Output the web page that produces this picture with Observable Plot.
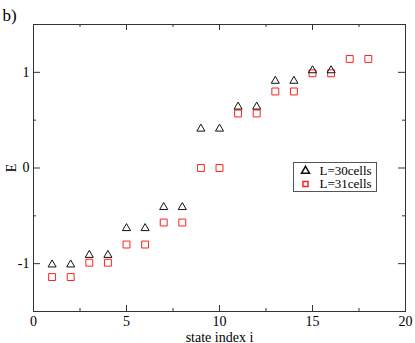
<!DOCTYPE html>
<html><head><meta charset="utf-8">
<script src="https://cdn.jsdelivr.net/npm/d3@7"></script>
<script src="https://cdn.jsdelivr.net/npm/@observablehq/plot@0.6"></script>
<style>
body{margin:0;background:#fff;}
#wrap{position:relative;width:415px;height:343px;}
#wrap svg, #wrap svg text{font-family:"Liberation Serif","DejaVu Serif",serif !important;}
#legend{position:absolute;left:293px;top:162px;width:84px;height:30px;border:1px solid #555;box-sizing:border-box;background:transparent;pointer-events:none;}
</style></head>
<body><div id="wrap"></div>
<script>
const stateIndex = [1,2,3,4,5,6,7,8,9,10,11,12,13,14,15,16,17,18];
const energyL30 = [-1.01,-1.01,-0.91,-0.91,-0.63,-0.63,-0.41,-0.41,0.41,0.41,0.64,0.64,0.91,0.91,1.02,1.02];
const energyL31 = [-1.14,-1.14,-0.99,-0.99,-0.80,-0.80,-0.57,-0.57,0.00,0.00,0.57,0.57,0.80,0.80,0.99,0.99,1.14,1.14];
const seriesNames = ["L=30cells","L=31cells"];
const xMajor = [0,5,10,15,20];
const xMinor = [2.5,7.5,12.5,17.5];
const yMajor = [-1,0,1];
const yMinor = [-1.5,-0.5,0.5,1.5];

const W = 415, H = 343, mt = 24, mb = 32, ml = 33, mr = 10;
const ph = H - mt - mb, pw = W - ml - mr;
const d30 = energyL30.map((e,k)=>({i: stateIndex[k], E: e}));
const d31 = energyL31.map((e,k)=>({i: stateIndex[k], E: e}));
const fmt = d => d < 0 ? "-" + (-d) : String(d);
const lgX = 293 - ml, lgY = 162 - mt;

const chart = Plot.plot({
  width: W, height: H,
  marginTop: mt, marginBottom: mb, marginLeft: ml, marginRight: mr,
  style: {fontFamily: '"Liberation Serif", serif', fontSize: "14px", color: "#000", background: "#fff"},
  x: {domain: [0,20]},
  y: {domain: [-1.5,1.5]},
  marks: [
    Plot.axisX(xMajor, {tickSize: 0, tickPadding: 5, fontSize: 14, tickFormat: fmt, label: "state index i", labelAnchor: "center", labelArrow: "none", labelOffset: 30}),
    Plot.axisY(yMajor, {tickSize: 0, tickPadding: 4, fontSize: 14, tickFormat: fmt, label: "E", labelAnchor: "center", labelArrow: "none", labelOffset: 27}),
    Plot.ruleX(xMajor, {x: d=>d, insetTop: ph - 6, stroke: "#333"}),
    Plot.ruleX(xMinor, {x: d=>d, insetTop: ph - 3, stroke: "#333"}),
    Plot.ruleX(xMajor, {x: d=>d, insetBottom: ph - 6, stroke: "#333"}),
    Plot.ruleX(xMinor, {x: d=>d, insetBottom: ph - 3, stroke: "#333"}),
    Plot.ruleY(yMajor, {y: d=>d, insetRight: pw - 7, stroke: "#333"}),
    Plot.ruleY(yMinor, {y: d=>d, insetRight: pw - 3, stroke: "#333"}),
    Plot.ruleY(yMajor, {y: d=>d, insetLeft: pw - 7, stroke: "#333"}),
    Plot.ruleY(yMinor, {y: d=>d, insetLeft: pw - 3, stroke: "#333"}),
    Plot.frame({stroke: "#333", strokeWidth: 1}),
    Plot.dot(d31, {x: "i", y: "E", symbol: "square", r: 3.9, stroke: "#ff2020", fill: "none", strokeWidth: 1}),
    Plot.dot(d30, {x: "i", y: "E", symbol: "triangle", r: 3.0, stroke: "#111", fill: "none", strokeWidth: 1}),
    Plot.text(["b)"], {frameAnchor: "top-left", dx: -31, dy: -16, fontSize: 17, textAnchor: "start", fill: "#000"}),
    Plot.dot([seriesNames[0]], {frameAnchor: "top-left", dx: lgX + 12, dy: lgY + 8.5, symbol: "triangle", r: 3.0, stroke: "#111", fill: "none"}),
    Plot.dot([seriesNames[1]], {frameAnchor: "top-left", dx: lgX + 12, dy: lgY + 21.5, symbol: "square", r: 2.9, stroke: "#ff2020", fill: "none"}),
    Plot.text([seriesNames[0]], {frameAnchor: "top-left", dx: lgX + 26, dy: lgY + 8.5, textAnchor: "start", lineAnchor: "middle", fontSize: 13, fill: "#000"}),
    Plot.text([seriesNames[1]], {frameAnchor: "top-left", dx: lgX + 26, dy: lgY + 21.7, textAnchor: "start", lineAnchor: "middle", fontSize: 13, fill: "#000"})
  ]
});
const wrap = document.getElementById("wrap");
wrap.appendChild(chart);
const lg = document.createElement("div");
lg.id = "legend";
wrap.appendChild(lg);
</script></body></html>
